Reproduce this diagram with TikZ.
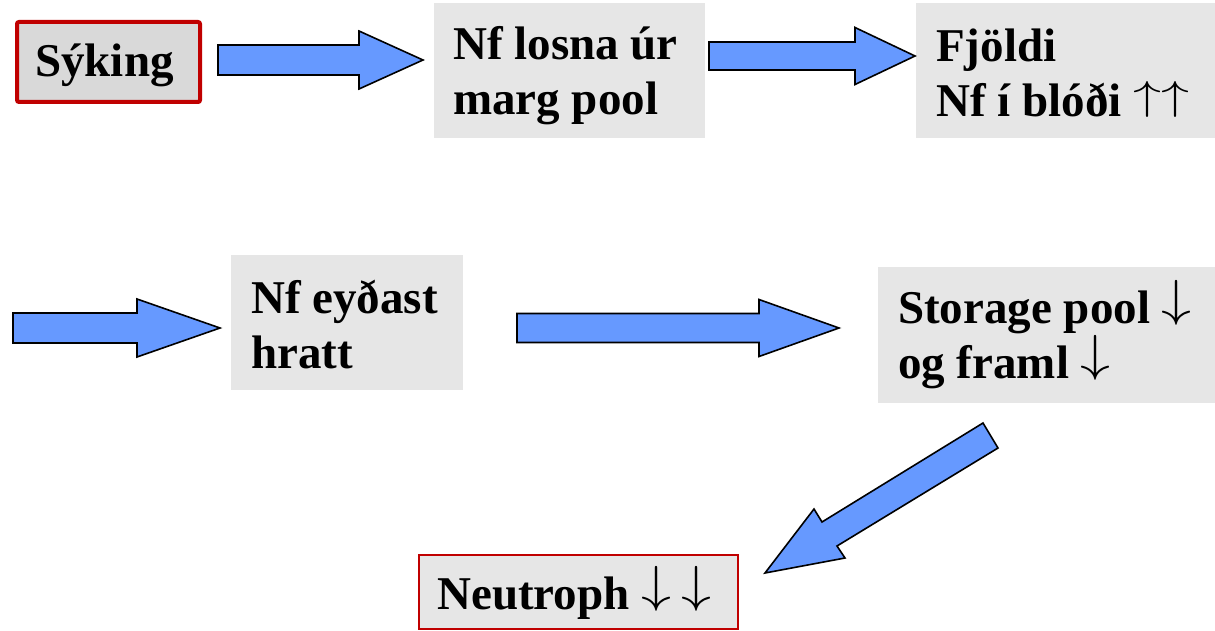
\documentclass[tikz,border=0pt]{standalone}
\usepackage{graphicx}
\usepackage{fontspec}
\setmainfont{Liberation Serif}
\definecolor{arrowblue}{HTML}{6699FF}
\definecolor{boxgray}{HTML}{E6E6E6}
\definecolor{boxgrayd}{HTML}{D9D9D9}
\definecolor{boxred}{HTML}{C00000}
\newcommand{\blockarrow}[6]{% x1, x2, xhead, yc, bodyhalf, headhalf
  \draw[arrowshape] (#1,#4-#5) -- (#3,#4-#5) -- (#3,#4-#6) -- (#2,#4)
    -- (#3,#4+#6) -- (#3,#4+#5) -- (#1,#4+#5) -- cycle;}
\newcommand{\dnarr}{\raisebox{8pt}{\resizebox*{30pt}{45pt}{$\downarrow$}}}
\newcommand{\uparr}{\raisebox{7pt}{\resizebox*{28pt}{36pt}{$\uparrow$}}}
\begin{document}
\begin{tikzpicture}[x=1pt,y=-1pt,
  arrowshape/.style={fill=arrowblue,draw=black,line width=1.6pt,line join=miter},
  graybox/.style={fill=boxgray,draw=none,inner sep=0pt,anchor=north west},
  boxtext/.style={anchor=base west,inner sep=0pt,align=left,
    font=\bfseries\fontsize{47}{55}\selectfont}]
\useasboundingbox (0,0) rectangle (1215,631);
% boxes
\node[fill=boxgrayd,draw=boxred,line width=4pt,rounded corners=2pt,inner sep=0pt,
  anchor=north west,minimum width=183pt,minimum height=80pt] (b1) at (15,20) {};
\node[graybox,minimum width=271pt,minimum height=135pt] (b2) at (434,3) {};
\node[graybox,minimum width=299pt,minimum height=135pt] (b3) at (916,3) {};
\node[graybox,minimum width=232pt,minimum height=135pt] (b4) at (231,255) {};
\node[graybox,minimum width=337pt,minimum height=136pt] (b5) at (878,267) {};
\node[fill=boxgray,draw=boxred,line width=2pt,inner sep=0pt,anchor=north west,
  minimum width=319pt,minimum height=74pt] (b6) at (418,554) {};
% texts (base anchor = baseline of last line)
\node[boxtext] (t1) at (35,77) {Sýking};
\node[boxtext] (t2) at (453,115) {Nf losna úr\\marg pool};
\node[boxtext] (t3) at (936,117) {Fjöldi\\Nf í blóði \uparr\uparr};
\node[boxtext] (t4) at (251,368) {Nf eyðast\\hratt};
\node[boxtext] (t5) at (898,378) {Storage pool \dnarr\\og framl \dnarr};
\node[boxtext] (t6) at (437,609) {Neutroph \dnarr\hspace{10pt}\dnarr};
% arrows
\blockarrow{218}{423}{359}{60}{15}{29}
\blockarrow{709}{915}{855}{56}{14}{28.5}
\blockarrow{13}{220}{137}{328}{15}{29}
\blockarrow{517}{839}{759}{328}{14.5}{28.5}
\draw[arrowshape] (983,423) -- (998,448) -- (837,546) -- (845,558) -- (765,573)
  -- (814,509) -- (822,522) -- cycle;
\end{tikzpicture}
\end{document}
